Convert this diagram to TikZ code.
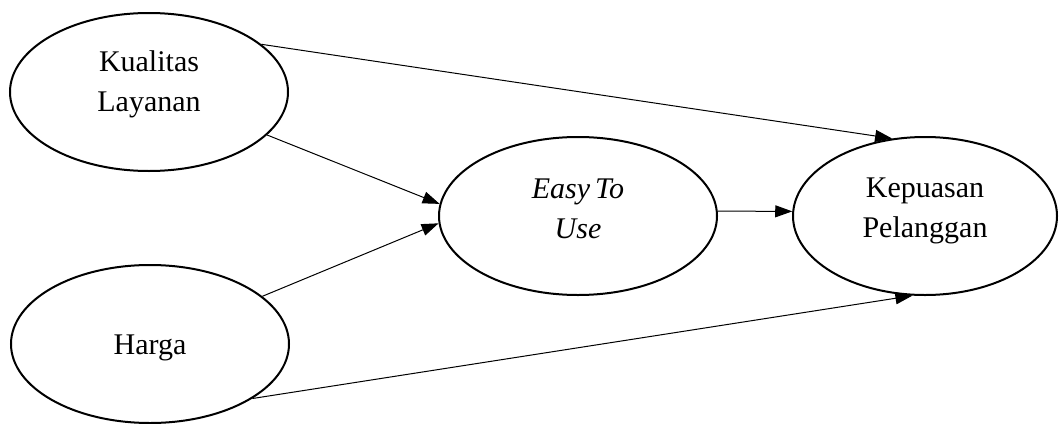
\documentclass[tikz,border=0pt]{standalone}
\usepackage{fontspec}
\setmainfont{Liberation Serif}
\usetikzlibrary{shapes.geometric,arrows.meta}
\begin{document}
\begin{tikzpicture}[x=1pt,y=-1pt,
  oval/.style={draw,ellipse,line width=2pt,minimum width=278pt,minimum height=158pt,inner sep=0pt},
  txt/.style={align=center,font=\fontsize{30}{40}\selectfont,inner sep=0pt},
  link/.style={line width=1pt,-{Triangle[length=17pt,width=12pt]}}]
\useasboundingbox (0,0) rectangle (1059,423);
\node[oval] (kl) at (149,92) {};
\node[oval] (hg) at (150,344) {};
\node[oval] (eu) at (578,216) {};
\node[oval,minimum width=264pt] (kp) at (925,216) {};
\node[txt] (klt) at (149,84) {Kualitas\\Layanan};
\node[txt] (hgt) at (150,348) {Harga};
\node[txt,font=\fontsize{30}{40}\selectfont\itshape] (eut) at (578,209) {Easy\,To\\Use};
\node[txt] (kpt) at (925,211) {Kepuasan\\Pelanggan};
\draw[link] (kl.23) -- (kp.113);
\draw[link] (kl.-20) -- (eu.175);
\draw[link] (hg.23) -- (eu.183);
\draw[link] (eu.2) -- (kp.178);
\draw[link] (hg.-28) -- (kp.261);
\end{tikzpicture}
\end{document}
